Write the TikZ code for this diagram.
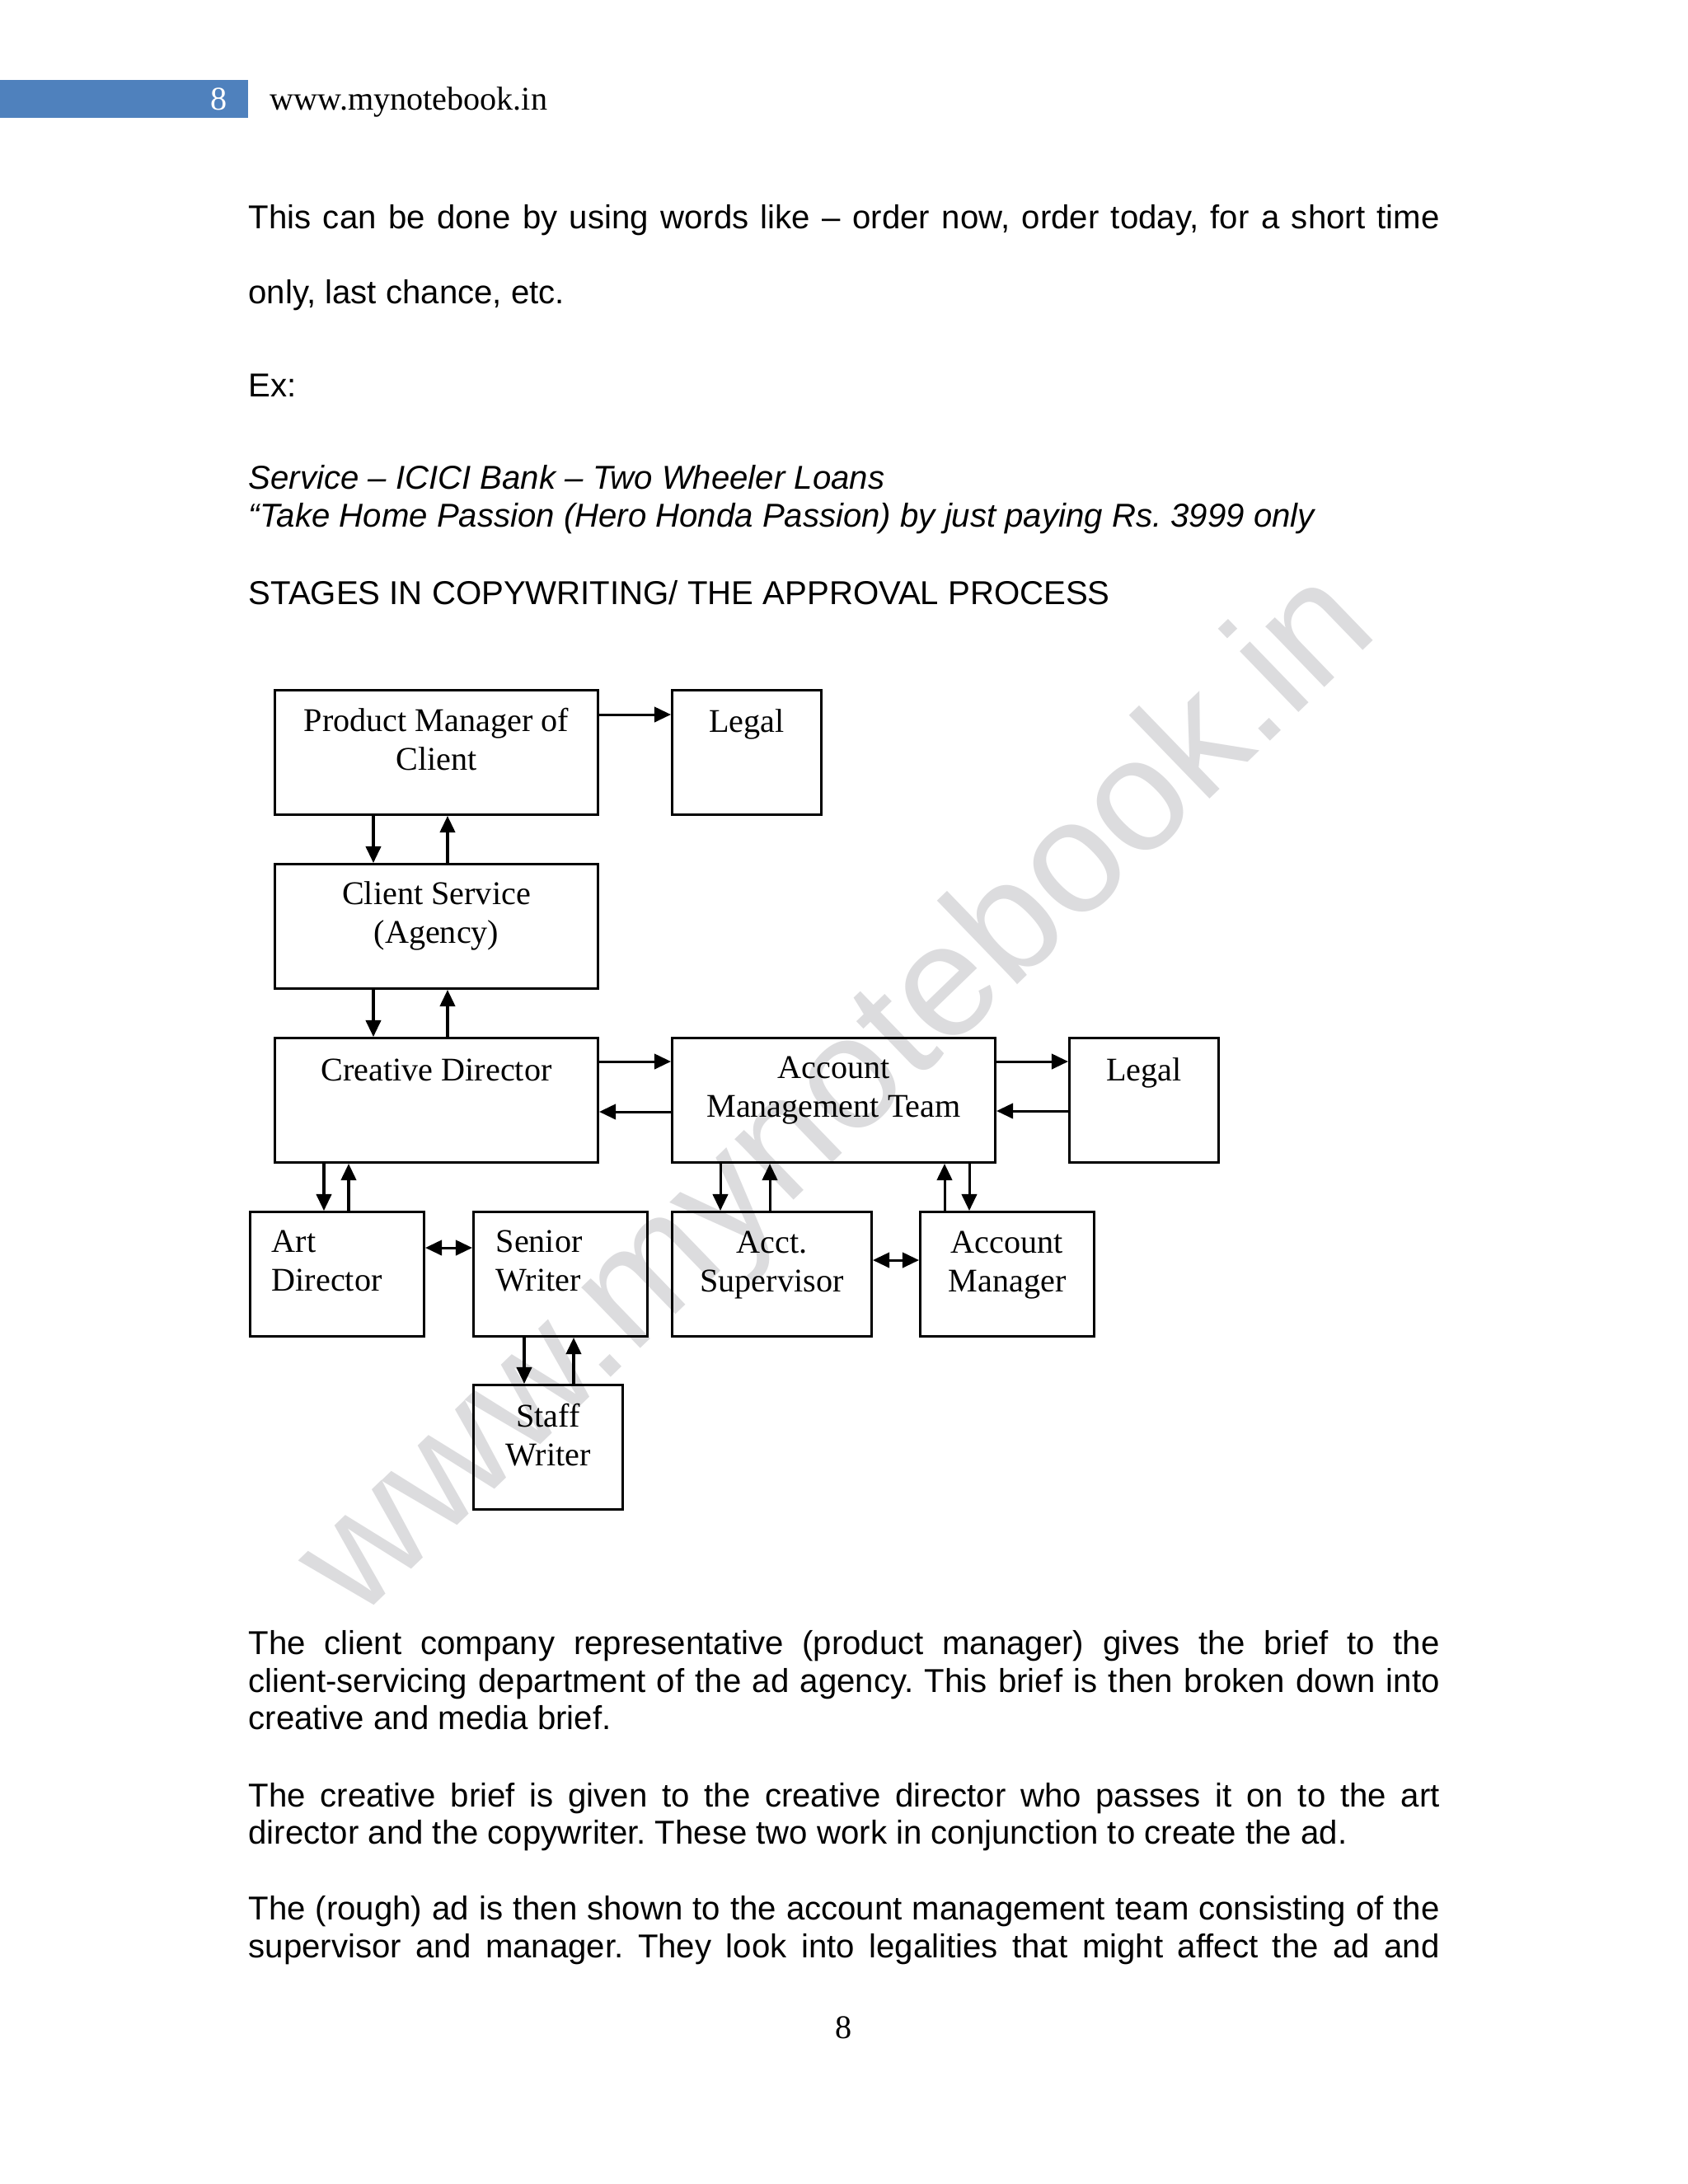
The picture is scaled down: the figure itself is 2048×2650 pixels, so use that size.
\documentclass[tikz,border=0pt]{standalone}
\usepackage{fontspec}
\setmainfont{Liberation Serif}
\newfontfamily\arialfont{Liberation Sans}
\usetikzlibrary{arrows.meta,calc}
\frenchspacing
\newcommand\pxu{0.2988pt}
\newcommand\jline[1]{\makebox[431.8pt][s]{#1}}
\definecolor{hdrblue}{HTML}{4F81BD}
\definecolor{wmgray}{HTML}{DCDCDE}
\tikzset{
  box/.style={draw, line width=0.9pt, anchor=north west, inner sep=0pt, minimum height=151*\pxu},
  lbl/.style={font=\fontsize{12}{13.8}\selectfont, inner sep=0pt, anchor=base, align=center},
  body/.style={font=\arialfont\fontsize{12}{13.8}\selectfont, inner sep=0pt, anchor=base west},
  arr/.style={line width=0.9pt, -{Triangle[length=6pt,width=5.5pt]}},
  darr/.style={line width=0.9pt, {Triangle[length=6pt,width=5.5pt]}-{Triangle[length=6pt,width=5.5pt]}},
}
\begin{document}
\begin{tikzpicture}[x=0.2988pt, y=-0.2988pt]
  \useasboundingbox (0,0) rectangle (2048,2650);
  % watermark
  \node[font=\arialfont\fontsize{58}{58}\selectfont, text=wmgray, rotate=44] (wm) at (1020,1332) {www.mynotebook.in};
  % header
  \fill[hdrblue] (0,97) rectangle (301,143);
  \node[lbl, text=white] (hnum) at (266,133) {8};
  \node[lbl, anchor=base west] (site) at (327,133) {www.mynotebook.in};
  % text above the chart
  \node[body] (t1) at (301,277) {\jline{This can be done by using words like – order now, order today, for a short time}};
  \node[body] (t2) at (301,368) {only, last chance, etc.};
  \node[body] (ex) at (301,481) {Ex:};
  \node[body] (ad1) at (301,593) {\itshape Service – ICICI Bank – Two Wheeler Loans};
  \node[body] (ad2) at (301,639) {\itshape “Take Home Passion (Hero Honda Passion) by just paying Rs. 3999 only};
  \node[body] (stg) at (301,733) {STAGES IN COPYWRITING/ THE APPROVAL PROCESS};
  % boxes
  \node[box, minimum width=392*\pxu] (pm) at (332,836) {};
  \node[box, minimum width=181*\pxu] (lg1) at (814,836) {};
  \node[box, minimum width=392*\pxu] (cs) at (332,1047) {};
  \node[box, minimum width=392*\pxu] (cd) at (332,1258) {};
  \node[box, minimum width=392*\pxu] (amt) at (814,1258) {};
  \node[box, minimum width=181*\pxu] (lg2) at (1296,1258) {};
  \node[box, minimum width=211*\pxu] (art) at (302,1469) {};
  \node[box, minimum width=211*\pxu] (sw) at (573,1469) {};
  \node[box, minimum width=242*\pxu] (sup) at (814,1469) {};
  \node[box, minimum width=211*\pxu] (mgr) at (1115,1469) {};
  \node[box, minimum width=181*\pxu] (stw) at (573,1679) {};
  % box texts (base of a two-line text is its second line)
  \node[lbl] (pmt) at ($(pm.north)+(0,98)$) {Product Manager of\\Client};
  \node[lbl] (lg1t) at ($(lg1.north)+(0,52)$) {Legal};
  \node[lbl] (cst) at ($(cs.north)+(0,97)$) {Client Service\\(Agency)};
  \node[lbl] (cdt) at ($(cd.north)+(0,53)$) {Creative Director};
  \node[lbl] (amtt) at ($(amt.north)+(0,97)$) {Account\\Management Team};
  \node[lbl] (lg2t) at ($(lg2.north)+(0,53)$) {Legal};
  \node[lbl, anchor=base west, align=left] (artt) at ($(art.north west)+(27,97)$) {Art\\Director};
  \node[lbl, anchor=base west, align=left] (swt) at ($(sw.north west)+(28,97)$) {Senior\\Writer};
  \node[lbl] (supt) at ($(sup.north)+(0,98)$) {Acct.\\Supervisor};
  \node[lbl] (mgrt) at ($(mgr.north)+(0,98)$) {Account\\Manager};
  \node[lbl] (stwt) at ($(stw.north)+(0,99)$) {Staff\\Writer};
  % arrows
  \draw[arr] ($(pm.north east)+(0,31)$) -- ($(lg1.north west)+(0,31)$);
  \draw[arr] ($(pm.south west)+(121,0)$) -- ($(cs.north west)+(121,0)$);
  \draw[arr] ($(cs.north west)+(211,0)$) -- ($(pm.south west)+(211,0)$);
  \draw[arr] ($(cs.south west)+(121,0)$) -- ($(cd.north west)+(121,0)$);
  \draw[arr] ($(cd.north west)+(211,0)$) -- ($(cs.south west)+(211,0)$);
  \draw[arr] ($(cd.north east)+(0,30)$) -- ($(amt.north west)+(0,30)$);
  \draw[arr] ($(amt.north west)+(0,91)$) -- ($(cd.north east)+(0,91)$);
  \draw[arr] ($(amt.north east)+(0,30)$) -- ($(lg2.north west)+(0,30)$);
  \draw[arr] ($(lg2.north west)+(0,90)$) -- ($(amt.north east)+(0,90)$);
  \draw[arr] ($(cd.south west)+(61,0)$) -- ($(art.north west)+(91,0)$);
  \draw[arr] ($(art.north west)+(121,0)$) -- ($(cd.south west)+(91,0)$);
  \draw[arr] ($(amt.south west)+(60,0)$) -- ($(sup.north west)+(60,0)$);
  \draw[arr] ($(sup.north west)+(120,0)$) -- ($(amt.south west)+(120,0)$);
  \draw[arr] ($(mgr.north west)+(31,0)$) -- ($(amt.south west)+(332,0)$);
  \draw[arr] ($(amt.south west)+(362,0)$) -- ($(mgr.north west)+(61,0)$);
  \draw[arr] ($(sw.south west)+(63,0)$) -- ($(stw.north west)+(63,0)$);
  \draw[arr] ($(stw.north west)+(123,0)$) -- ($(sw.south west)+(123,0)$);
  \draw[darr] ($(art.north east)+(0,45)$) -- ($(sw.north west)+(0,45)$);
  \draw[darr] ($(sup.north east)+(0,60)$) -- ($(mgr.north west)+(0,60)$);
  % text below the chart
  \node[body] (p1) at (301,2007) {\jline{The client company representative (product manager) gives the brief to the}};
  \node[body] (p2) at (301,2053) {\jline{client-servicing department of the ad agency. This brief is then broken down into}};
  \node[body] (p3) at (301,2098) {creative and media brief.};
  \node[body] (p4) at (301,2192) {\jline{The creative brief is given to the creative director who passes it on to the art}};
  \node[body] (p5) at (301,2237) {director and the copywriter. These two work in conjunction to create the ad.};
  \node[body] (p6) at (301,2329) {\jline{The (rough) ad is then shown to the account management team consisting of the}};
  \node[body] (p7) at (301,2375) {\jline{supervisor and manager. They look into legalities that might affect the ad and}};
  \node[lbl] (pg) at (1024,2473) {8};
\end{tikzpicture}
\end{document}
